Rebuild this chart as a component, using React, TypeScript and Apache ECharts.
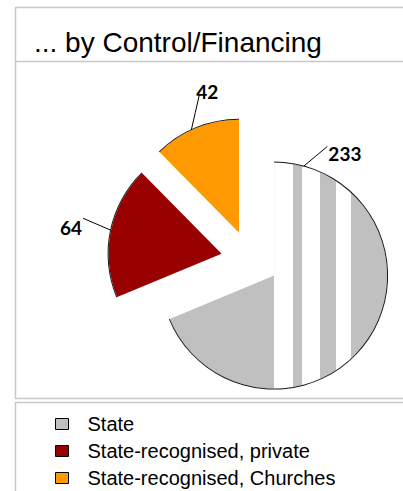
import React, { useEffect, useRef } from 'react';
import * as echarts from 'echarts';

// ---- data ----
const categories = ['State', 'State-recognised, private', 'State-recognised, Churches'];
const values = [233, 64, 42];
const colors = ['#c0c0c0', '#990000', '#ff9900'];
const titleText = '... by Control/Financing';

// ---- layout / style ----
const W = 403;
const H = 491;
const CX = 250;
const CY = 259.5;
const R = 113;
const EXPLODE = 29;
const LABEL_ANCHOR_DEG = [15, 282, 335];
const LEADER_END = [[24, -20], [-28, -12], [8, -35]];
const LABEL_SHIFT = [[1, 7], [-1, 9], [-3, -3.5]];
const LABEL_ALIGN = ['left', 'right', 'left'];
const STRIPES = [19, 9, 18, 16, 15];
const FRAME = '#c8c8c8';

export default function App() {
  const ref = useRef<HTMLDivElement>(null);
  useEffect(() => {
    const chart = echarts.init(ref.current!, null, { renderer: 'svg' });
    const total = values.reduce((a, b) => a + b, 0);
    let acc = 0;
    const mids = values.map((v) => {
      const m = ((acc + v / 2) / total) * 360;
      acc += v;
      return m;
    });
    const rad = (d: number) => (d * Math.PI) / 180;
    const centers = mids.map((m) => [CX + EXPLODE * Math.sin(rad(m)), CY - EXPLODE * Math.cos(rad(m))]);
    const stripeStart = Math.round(centers[0][0]);
    const stripeSum = STRIPES.reduce((a, b) => a + b, 0);
    const decal = {
      symbol: 'rect',
      symbolSize: 1,
      color: '#ffffff',
      dashArrayX: [[0, stripeStart, ...STRIPES, W - stripeStart - stripeSum]],
      dashArrayY: [H, 1],
      maxTileWidth: 512,
      maxTileHeight: 512,
    };

    const labelLayout = (p: any) => {
      const j = p.dataIndex;
      const [cx, cy] = centers[j];
      const a = rad(LABEL_ANCHOR_DEG[j]);
      const ax = cx + R * Math.sin(a);
      const ay = cy - R * Math.cos(a);
      const ex = ax + LEADER_END[j][0];
      const ey = ay + LEADER_END[j][1];
      return {
        x: ex + LABEL_SHIFT[j][0],
        y: ey + LABEL_SHIFT[j][1],
        align: LABEL_ALIGN[j],
        verticalAlign: 'middle',
        labelLinePoints: [
          [ax, ay],
          [(ax + ex) / 2, (ay + ey) / 2],
          [ex, ey],
        ],
      };
    };

    const fillSeries = values.map((_, i) => ({
      type: 'pie',
      silent: true,
      center: centers[i],
      radius: R,
      startAngle: 90,
      clockwise: true,
      avoidLabelOverlap: false,
      labelLayout,
      data: values.map((v, j) => ({
        value: v,
        name: categories[j],
        itemStyle:
          j === i
            ? { color: colors[j], borderWidth: 0, ...(j === 0 ? { decal } : {}) }
            : { color: 'rgba(0,0,0,0)', borderWidth: 0 },
        label: {
          show: j === i,
          formatter: '{c}',
          fontFamily: 'Lato',
          fontWeight: 'bold',
          fontSize: 19,
          color: '#000',
        },
        labelLine: { show: j === i, lineStyle: { color: '#000', width: 1 } },
      })),
    }));

    const ringSeries = values.map((_, i) => ({
      type: 'pie',
      silent: true,
      center: centers[i],
      radius: [R, R + 1],
      startAngle: 90,
      clockwise: true,
      label: { show: false },
      labelLine: { show: false },
      data: values.map((v, j) => ({
        value: v,
        name: categories[j],
        itemStyle: { color: j === i ? '#1a1a1a' : 'rgba(0,0,0,0)', borderWidth: 0 },
      })),
    }));

    const line = (x1: number, y1: number, x2: number, y2: number) => ({
      type: 'line',
      silent: true,
      shape: { x1, y1, x2, y2 },
      style: { stroke: FRAME, lineWidth: 1.5 },
    });

    chart.setOption({
      animation: false,
      backgroundColor: '#fff',
      title: {
        text: titleText,
        left: 34,
        top: 28,
        padding: 0,
        textStyle: { fontFamily: 'Liberation Sans', fontSize: 28, fontWeight: 'normal', color: '#000' },
      },
      legend: {
        orient: 'vertical',
        left: 55,
        top: 414,
        padding: 0,
        itemGap: 7,
        itemWidth: 13,
        itemHeight: 11,
        icon: 'rect',
        selectedMode: false,
        textStyle: {
          fontFamily: 'Liberation Sans',
          fontSize: 20,
          lineHeight: 20,
          color: '#000',
          padding: [0, 0, 0, 14],
        },
        data: categories.map((n, i) => ({
          name: n,
          itemStyle: { color: colors[i], borderColor: '#000', borderWidth: 1, decal: 'none' },
        })),
      },
      graphic: [
        line(15, 7.5, W, 7.5),
        line(15.5, 7, 15.5, 399),
        line(15, 61.5, W, 61.5),
        line(15, 398.5, W, 398.5),
        line(15, 402.5, W, 402.5),
        line(15.5, 402, 15.5, H),
      ],
      series: [...fillSeries, ...ringSeries],
    });
    return () => chart.dispose();
  }, []);
  return <div ref={ref} style={{ position: 'absolute', left: 0, top: 0, width: W, height: H }} />;
}
